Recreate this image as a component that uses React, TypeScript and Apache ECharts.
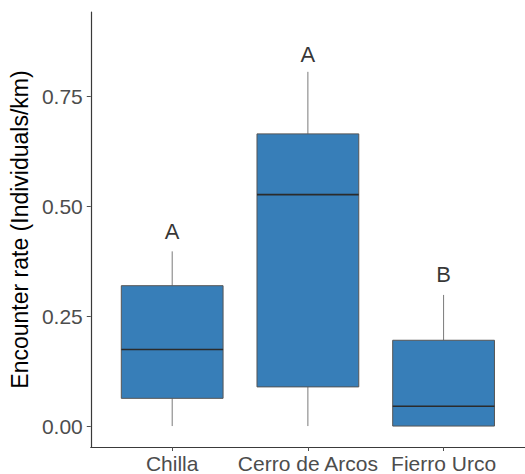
import React, { useEffect, useRef } from 'react';
import * as echarts from 'echarts';

const categories = ['Chilla', 'Cerro de Arcos', 'Fierro Urco'];
const whiskerLow = [0, 0, 0];
const q1 = [0.063, 0.089, 0];
const median = [0.174, 0.526, 0.045];
const q3 = [0.319, 0.664, 0.195];
const whiskerHigh = [0.397, 0.805, 0.298];
const groupLetters = ['A', 'A', 'B'];
const letterY = [0.442, 0.844, 0.344];
const yTicks = [0, 0.25, 0.5, 0.75];

const FONT = '"Liberation Sans", Arial, sans-serif';

export default function App() {
  const ref = useRef<HTMLDivElement>(null);
  useEffect(() => {
    if (!ref.current) return;
    const chart = echarts.init(ref.current, undefined, { renderer: 'svg' });
    const boxData = categories.map((_, i) => [i + 1, whiskerLow[i], q1[i], median[i], q3[i], whiskerHigh[i]]);
    const letterData = categories.map((_, i) => [i + 1, letterY[i], groupLetters[i]]);
    chart.setOption({
      animation: false,
      backgroundColor: '#ffffff',
      textStyle: { fontFamily: FONT },
      grid: { left: 88, top: 12, width: 443, height: 436.7, containLabel: false },
      xAxis: {
        type: 'value',
        min: 0.4,
        max: 3.6,
        splitLine: { show: false },
        axisLine: { show: true, onZero: false, lineStyle: { color: '#3a3a3a', width: 1.2 } },
        axisTick: { show: true, customValues: [1, 2, 3], length: 4, lineStyle: { color: '#4d4d4d' } },
        axisLabel: {
          customValues: [1, 2, 3],
          formatter: (v: number) => categories[Math.round(v) - 1] ?? '',
          fontSize: 21,
          color: '#4d4d4d',
          fontFamily: FONT,
          margin: 6,
        },
      },
      yAxis: {
        type: 'value',
        min: -0.0476,
        max: 0.941,
        name: 'Encounter rate (Individuals/km)',
        nameLocation: 'middle',
        nameGap: 51,
        nameTextStyle: { fontSize: 23, color: '#000', fontFamily: FONT },
        splitLine: { show: false },
        axisLine: { show: true, onZero: false, lineStyle: { color: '#3a3a3a', width: 1.2 } },
        axisTick: { show: true, customValues: yTicks, length: 4, lineStyle: { color: '#4d4d4d' } },
        axisLabel: {
          customValues: yTicks,
          formatter: (v: number) => v.toFixed(2),
          fontSize: 21,
          color: '#4d4d4d',
          fontFamily: FONT,
          margin: 8,
        },
      },
      series: [
        {
          type: 'custom',
          clip: false,
          data: boxData,
          encode: { x: 0, y: [1, 2, 3, 4, 5] },
          renderItem: (params: any, api: any) => {
            const x = api.value(0);
            const pLo = api.coord([x, api.value(1)]);
            const pA = api.coord([x, api.value(2)]);
            const pM = api.coord([x, api.value(3)]);
            const pB = api.coord([x, api.value(4)]);
            const pHi = api.coord([x, api.value(5)]);
            const half = api.size([0.75, 0])[0] / 2;
            return {
              type: 'group',
              children: [
                { type: 'line', shape: { x1: pHi[0], y1: pHi[1], x2: pB[0], y2: pB[1] }, style: { stroke: '#7a7a7a', lineWidth: 1 } },
                { type: 'line', shape: { x1: pA[0], y1: pA[1], x2: pLo[0], y2: pLo[1] }, style: { stroke: '#7a7a7a', lineWidth: 1 } },
                {
                  type: 'rect',
                  shape: { x: pA[0] - half, y: pB[1], width: half * 2, height: pA[1] - pB[1] },
                  style: { fill: '#377EB8', stroke: '#555555', lineWidth: 1 },
                },
                { type: 'line', shape: { x1: pM[0] - half, y1: pM[1], x2: pM[0] + half, y2: pM[1] }, style: { stroke: '#2b2b2b', lineWidth: 1.6 } },
              ],
            };
          },
        },
        {
          type: 'scatter',
          data: letterData,
          symbolSize: 0,
          silent: true,
          label: {
            show: true,
            position: 'inside',
            formatter: (p: any) => p.value[2],
            fontSize: 22,
            color: '#000',
            fontFamily: FONT,
          },
        },
      ],
    });
    return () => chart.dispose();
  }, []);
  return <div ref={ref} style={{ position: 'fixed', left: 0, top: 0, width: 525, height: 474 }} />;
}
